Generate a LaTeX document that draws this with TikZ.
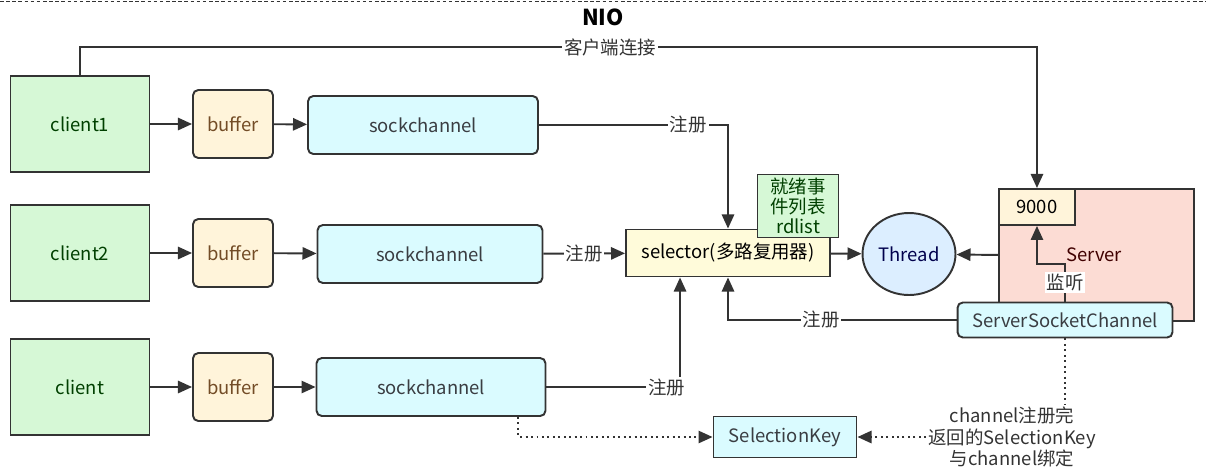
\documentclass[tikz,border=0pt]{standalone}
\usepackage{fontspec}
\setmainfont{Noto Sans CJK SC}
\usetikzlibrary{positioning,shapes,arrows.meta}

\definecolor{linegray}{HTML}{333333}
\definecolor{clientfill}{HTML}{D6F8D6}
\definecolor{bufferfill}{HTML}{FFF4DA}
\definecolor{sockfill}{HTML}{DAFBFF}
\definecolor{selfill}{HTML}{FFFBDA}
\definecolor{threadfill}{HTML}{DCEEFF}
\definecolor{serverfill}{HTML}{FCDCD4}

\tikzset{
  base/.style={draw=linegray, line width=1.1pt, inner sep=0pt, font=\fontsize{10.5}{12}\selectfont},
  client/.style={base, fill=clientfill, text=green!25!black, minimum width=2.78cm, minimum height=1.92cm},
  buf/.style={base, rounded corners=3pt, fill=bufferfill, text=brown!60!black, minimum width=1.6cm, minimum height=1.36cm},
  sock/.style={base, rounded corners=3pt, fill=sockfill, text=cyan!15!black, minimum height=1.16cm},
  lbl/.style={fill=white, inner sep=1pt, text=linegray, font=\fontsize{10.5}{12}\selectfont},
  conn/.style={draw=linegray, line width=1.1pt},
  arr/.style={conn, -{Triangle[length=8pt,width=7pt]}},
  dots/.style={conn, dash pattern=on 1.1pt off 2pt, -{Triangle[length=8pt,width=7pt]}}
}

\begin{document}
\begin{tikzpicture}[x=0.02cm, y=-0.02cm]
\useasboundingbox (0,0) rectangle (1206,474);
\draw[linegray, line width=0.6pt, dash pattern=on 2pt off 1.5pt] (0,1.5) -- (1206,1.5);
\node[font=\bfseries\fontsize{12.5}{14}\selectfont] (title) at (603,17) {NIO};

% clients
\node[client] (c1) at (80,124) {client1};
\node[buf] (b1) at (233,124) {buffer};
\node[sock, minimum width=4.6cm] (s1) at (423,125) {sockchannel};
\node[client] (c2) at (80,253) {client2};
\node[buf] (b2) at (233,253) {buffer};
\node[sock, minimum width=4.5cm] (s2) at (430,254) {sockchannel};
\node[client] (c3) at (80,387) {client};
\node[buf] (b3) at (233,387) {buffer};
\node[sock, minimum width=4.58cm] (s3) at (431,387) {sockchannel};

% selector and thread
\node[base, fill=selfill, minimum width=4.08cm, minimum height=0.94cm] (sel) at (728,253) {selector(多路复用器)};
\node[base, fill=clientfill, text=green!25!black, align=center, minimum width=1.62cm, minimum height=1.26cm,
  font=\fontsize{10.5}{11.4}\selectfont] (rd) at (798,206) {就绪事\\件列表\\rdlist};
\node[base, ellipse, fill=threadfill, text=blue!30!black, minimum width=1.86cm, minimum height=1.64cm] (th) at (909,254) {Thread};

% server
\node[base, fill=serverfill, minimum width=3.9cm, minimum height=2.64cm, anchor=north west] (srv) at (998,188) {};
\node[text=red!25!black, font=\fontsize{10.5}{12}\selectfont] (srvname) at (1094,255) {Server};
\node[base, fill=bufferfill, minimum width=1.52cm, minimum height=0.72cm, anchor=north west] (port) at (998,188) {9000};
\node[base, rounded corners=3pt, fill=sockfill, text=cyan!15!black, minimum width=4.3cm, minimum height=0.7cm] (ssc) at (1065,320) {ServerSocketChannel};

\node[base, fill=sockfill, text=cyan!15!black, minimum width=2.86cm, minimum height=0.82cm] (key) at (785,437) {SelectionKey};
\node[align=center, text=linegray, inner sep=1pt, font=\fontsize{10.5}{12.3}\selectfont] (note) at (1012,437) {channel注册完\\返回的SelectionKey\\与channel绑定};

\draw[arr] (c1) -- (b1);
\draw[arr] (b1) -- (s1);
\draw[arr] (c2) -- (b2);
\draw[arr] (b2) -- (s2);
\draw[arr] (c3) -- (b3);
\draw[arr] (b3) -- (s3);

\draw[arr] (c1.north) -- (80,47) -| node[lbl, pos=0.277] {客户端连接} (port.north);
\draw[arr] (s1.east) -| node[lbl, pos=0.395] {注册} (sel.north);
\draw[arr] (s2) -- node[lbl] {注册} (sel);
\draw[arr] (s3.east) -| node[lbl, pos=0.45] {注册} ([xshift=1.1cm]sel.south west);
\draw[arr] (ssc.west) -| node[lbl, pos=0.296] {注册} (sel.south);
\draw[arr] (sel) -- (th);
\draw[arr] (srv.west) -- (th);
\draw[arr] (ssc.north) -- node[lbl] {监听} ++(0,-38) -| (port.south);

\draw[dots] ([xshift=-0.56cm]s3.south east) |- (key.west);
\draw[conn, dash pattern=on 1.1pt off 2pt] (ssc.south) -- (ssc.south |- note.north);
\draw[dots] (note.west) -- (key.east);
\end{tikzpicture}
\end{document}
